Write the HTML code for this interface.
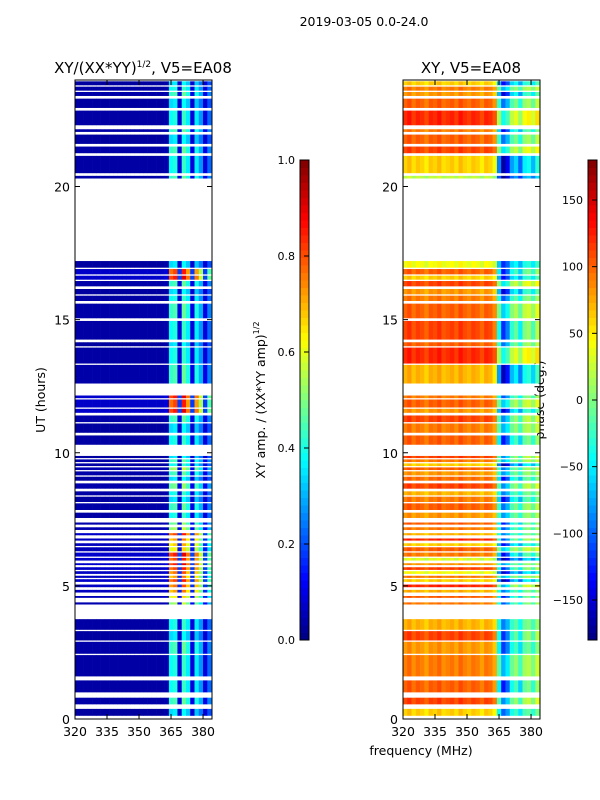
<!DOCTYPE html>
<html><head><meta charset="utf-8">
<style>
html,body{margin:0;padding:0;background:#fff;}
svg{display:block;font-family:"DejaVu Sans","Liberation Sans",sans-serif;}
</style></head>
<body>
<svg id="fig" width="600" height="800" viewBox="0 0 600 800" xmlns="http://www.w3.org/2000/svg">
<rect width="600" height="800" fill="#fff"/>
<text x="364" y="26" font-size="12.5" text-anchor="middle">2019-03-05 0.0-24.0</text>
<text x="143" y="73" font-size="15" text-anchor="middle">XY/(XX*YY)<tspan font-size="9" dy="-6">1/2</tspan><tspan dy="6">, V5=EA08</tspan></text>
<text x="471" y="73" font-size="15" text-anchor="middle">XY, V5=EA08</text>
<text transform="translate(45,400) rotate(-90)" font-size="12.5" text-anchor="middle">UT (hours)</text>
<text transform="translate(265,400) rotate(-90)" font-size="12.5" text-anchor="middle">XY amp. / (XX*YY amp)<tspan font-size="8" dy="-6">1/2</tspan></text>
<text transform="translate(544,400) rotate(-90)" font-size="12.5" text-anchor="middle">phase (deg.)</text>
<text x="421" y="755" font-size="12.5" text-anchor="middle">frequency (MHz)</text>
<g id="gL"></g>
<g id="gR"></g>
<g id="axes"></g>
</svg>
<script>
// ---- data ----
const rowSpans = [[0.12,0.38],[0.55,0.8],[1.0,1.45],[1.6,2.4],[2.45,2.9],[2.95,3.3],[3.35,3.75],
[4.3,4.38],[4.55,4.62],[4.75,4.85],[4.95,5.05],[5.15,5.25],[5.3,5.38],[5.45,5.55],[5.6,5.7],[5.78,5.85],[5.95,6.05],[6.1,6.25],[6.3,6.45],[6.5,6.6],[6.7,6.78],[6.9,6.98],[7.1,7.2],[7.3,7.38],
[7.55,7.75],[7.85,8.1],[8.15,8.35],[8.4,8.55],[8.65,8.85],[8.95,9.1],[9.15,9.3],[9.35,9.45],[9.5,9.6],[9.65,9.75],[9.8,9.88],
[10.3,10.65],[10.75,11.1],[11.15,11.4],[11.5,11.65],[11.7,12.0],[12.05,12.15],
[12.6,13.3],[13.35,13.95],[14.0,14.15],[14.25,14.95],[15.05,15.6],[15.7,15.9],[15.95,16.15],[16.25,16.45],[16.5,16.65],[16.7,16.9],[16.95,17.2],
[20.3,20.4],[20.5,21.15],[21.25,21.5],[21.6,21.95],[22.05,22.15],[22.3,22.85],[22.95,23.3],[23.4,23.55],[23.6,23.75],[23.8,23.95]];
const rowAmp = [0.4,0.5,0.45,0.45,0.5,0.4,0.45,
0.6,0.7,0.8,0.85,0.9,0.8,0.85,0.9,0.95,0.9,0.95,0.7,0.75,0.8,0.9,0.6,0.55,
0.45,0.5,0.4,0.45,0.55,0.4,0.5,0.6,0.45,0.5,0.4,
0.45,0.4,0.5,0.95,0.9,0.95,
0.5,0.45,0.4,0.45,0.5,0.45,0.4,0.5,0.95,0.9,0.4,
0.5,0.45,0.5,0.4,0.5,0.45,0.4,0.5,0.45,0.4];
const rowPhase = [60,110,100,90,80,110,70,
90,100,70,120,60,90,40,110,80,30,90,100,60,120,70,90,100,
80,100,90,70,110,95,80,100,60,90,110,
100,90,110,80,100,90,
70,120,100,110,100,90,80,110,60,100,40,
20,60,110,100,90,120,100,80,90,60];
const chanFreqs = [320,322,324,326,328,330,332,334,336,338,340,342,344,346,348,350,352,354,356,358,360,362,364,366,368,370,372,374,376,378,380,382];
const chanWeight = [0.08,0.08,0.08,0.08,0.08,0.08,0.08,0.08,0.08,0.08,0.08,0.08,0.08,0.08,0.08,0.08,0.08,0.08,0.08,0.08,0.08,0.1,0.85,0.9,0.2,0.95,0.8,0.2,0.8,0.6,0.2,0.5];
const chanPhaseOff = [0,10,-5,5,0,-10,5,0,10,-5,0,5,-5,10,0,-5,5,0,-10,5,0,-20,-150,-230,-200,-140,-120,-160,-110,-100,-130,-90];
const ampTicks = [0,0.2,0.4,0.6,0.8,1.0];
const phaseTicks = [-150,-100,-50,0,50,100,150];
const yTicks = [0,5,10,15,20];
const xTicks = [320,335,350,365,380];

// ---- scales ----
const Y0=719, Y1=80, T1=24;
function ys(h){return Y0-(h/T1)*(Y0-Y1);}
function xsL(f){return 75+(f-320)*(212-75)/(384.2-320);}
function xsR(f){return 403+(f-320)*(540-403)/(384.2-320);}
function jet(v){v=Math.max(0,Math.min(1,v));
 const r=Math.max(0,Math.min(1,1.5-Math.abs(4*v-3))),g=Math.max(0,Math.min(1,1.5-Math.abs(4*v-2))),b=Math.max(0,Math.min(1,1.5-Math.abs(4*v-1)));
 return `rgb(${Math.round(r*255)},${Math.round(g*255)},${Math.round(b*255)})`;}
const NS='http://www.w3.org/2000/svg';
function mk(tag,attrs,parent){const e=document.createElementNS(NS,tag);for(const k in attrs)e.setAttribute(k,attrs[k]);parent.appendChild(e);return e;}
const gL=document.getElementById('gL'),gR=document.getElementById('gR'),ax=document.getElementById('axes');

rowSpans.forEach((s,i)=>{
 const yA=ys(s[1]),yB=ys(s[0]);
 chanFreqs.forEach((f,j)=>{
  const f2=j+1<chanFreqs.length?chanFreqs[j+1]:384.2;
  const a=Math.max(0.03,rowAmp[i]*chanWeight[j]);
  const c=mk('rect',{x:xsL(f),y:yA,width:xsL(f2)-xsL(f)+0.3,height:yB-yA,fill:jet(a)},gL);
  
  
  let p=rowPhase[i]+chanPhaseOff[j]*(j>20?(0.7+0.3*((i%3)/2)):1);
  while(p>180)p-=360;while(p<-180)p+=360;
  const d=mk('rect',{x:xsR(f),y:yA,width:xsR(f2)-xsR(f)+0.3,height:yB-yA,fill:jet((p+180)/360)},gR);
  
  
 });
});

// frames and ticks
[[75,212,xsL],[403,540,xsR]].forEach(([x0,x1,xs],k)=>{
 const fr=mk('rect',{x:x0,y:Y1,width:x1-x0,height:Y0-Y1,fill:'none',stroke:'#000','stroke-width':1},ax);
 
 
 yTicks.forEach(t=>{const y=ys(t);
  mk('line',{x1:x0,x2:x0+5,y1:y,y2:y,stroke:'#000'},ax);mk('line',{x1:x1,x2:x1-5,y1:y,y2:y,stroke:'#000'},ax);
  const tx=mk('text',{x:x0-5,y:y+5,'font-size':12.5,'text-anchor':'end'},ax);tx.textContent=t;
  
  });
 xTicks.forEach(t=>{const x=xs(t);
  mk('line',{x1:x,x2:x,y1:Y0,y2:Y0-5,stroke:'#000'},ax);mk('line',{x1:x,x2:x,y1:Y1,y2:Y1+5,stroke:'#000'},ax);
  const tx=mk('text',{x:x,y:Y0+17,'font-size':12.5,'text-anchor':'middle'},ax);tx.textContent=t;
  
  });
});

// colorbars
function cbar(x,lo,hi,ticks,name){
 const N=64,top=160,bot=640;
 for(let i=0;i<N;i++){const y=bot-(i+1)*(bot-top)/N;
  const r=mk('rect',{x:x,y:y,width:9,height:(bot-top)/N+0.5,fill:jet((i+0.5)/N)},ax);
  
  }
 const fr=mk('rect',{x:x,y:top,width:9,height:bot-top,fill:'none',stroke:'#000'},ax);
 
 
 ticks.forEach(t=>{const y=bot-(t-lo)/(hi-lo)*(bot-top);
  mk('line',{x1:x+4,x2:x+9,y1:y,y2:y,stroke:'#000'},ax);
  const tx=mk('text',{x:x-5,y:y+4,'font-size':11,'text-anchor':'end'},ax);
  tx.textContent=(name==='amp-colorbar')?t.toFixed(1):(t<0?'\u2212'+(-t):t);
  
  });
}
cbar(300,0,1,ampTicks,'amp-colorbar');
cbar(588,-180,180,phaseTicks,'phase-colorbar');
</script>
</body></html>
